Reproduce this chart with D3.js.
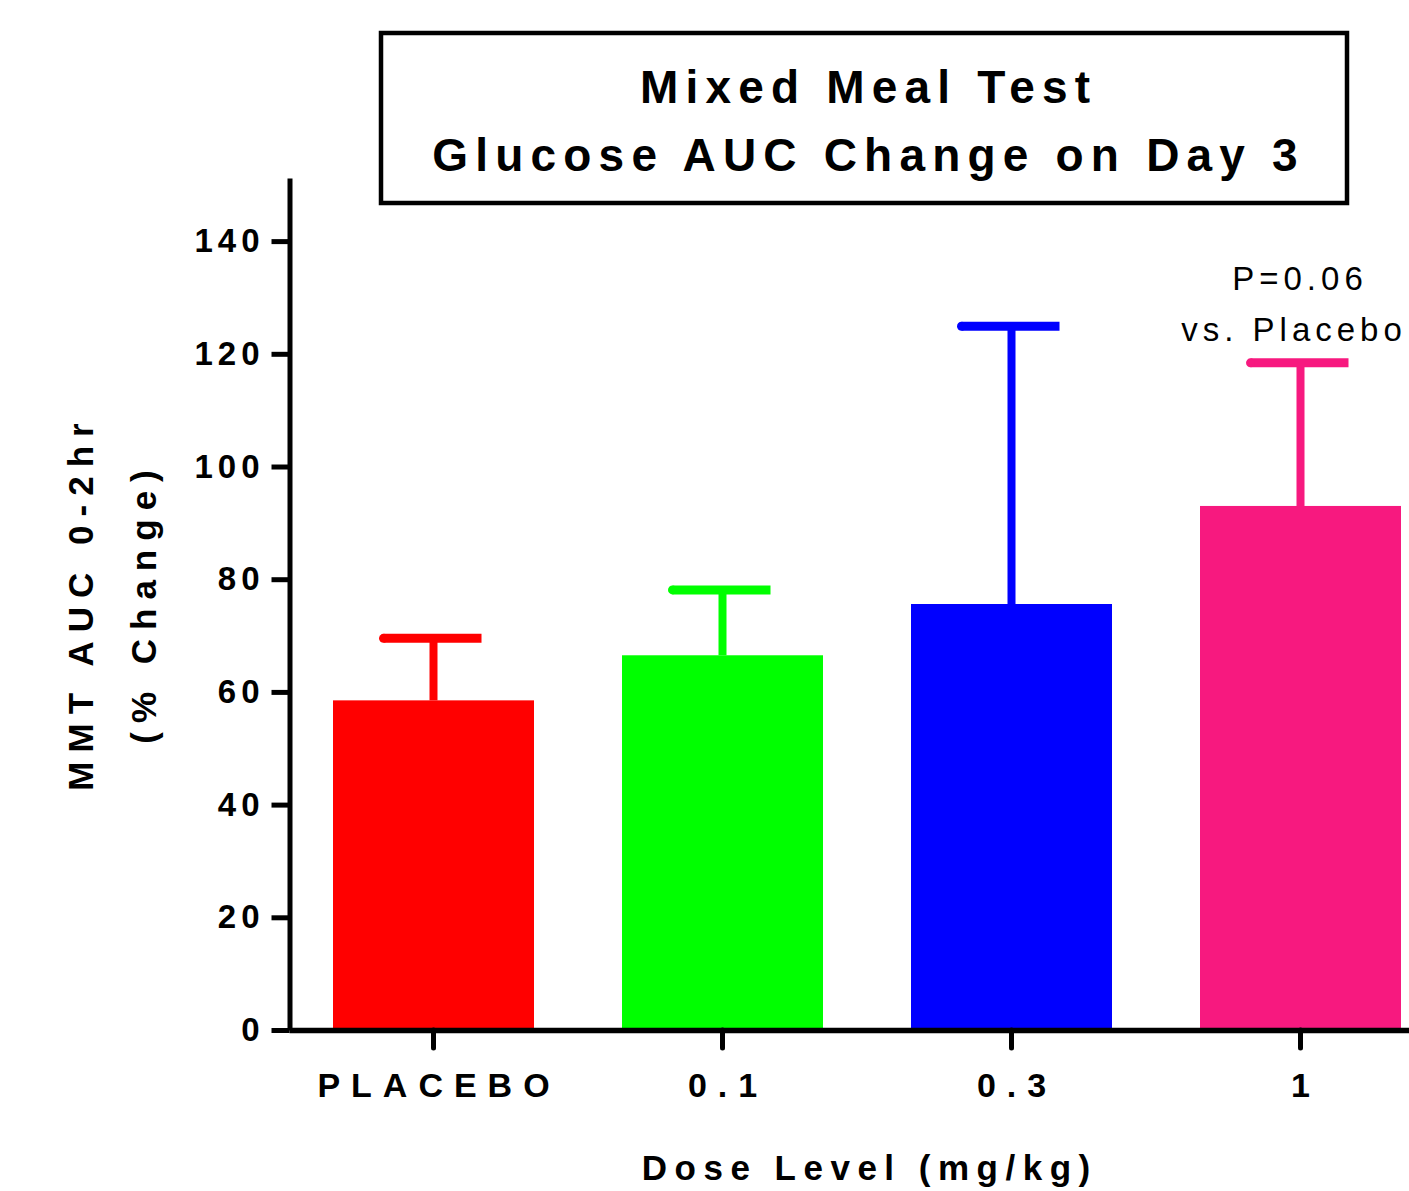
<!DOCTYPE html>
<html>
<head>
<meta charset="utf-8">
<script src="https://cdn.jsdelivr.net/npm/d3@7"></script>
<style>
  html, body { margin: 0; padding: 0; background: #fff; }
  svg { display: block; }
</style>
</head>
<body>
<script>
// ---- data ----
const categories = ["PLACEBO", "0.1", "0.3", "1"];
const means = [58.5, 66.5, 75.6, 93.0];
const errorTops = [69.5, 78.1, 124.9, 118.4];
const barColors = ["#ff0000", "#00ff00", "#0000ff", "#f7197f"];
const yTicks = [0, 20, 40, 60, 80, 100, 120, 140];
const titleLines = ["Mixed Meal Test", "Glucose AUC Change on Day 3"];
const yTitleLines = ["MMT AUC 0-2hr", "(% Change)"];
const xTitle = "Dose Level (mg/kg)";
const annotationLines = ["P=0.06", "vs. Placebo"];
const annotatedCategory = "1";

// ---- layout ----
const W = 1409, H = 1191;
const FONT = "'Liberation Sans', Arial, Helvetica, sans-serif";

const svg = d3.select("body").append("svg")
  .attr("width", W).attr("height", H)
  .style("font-family", FONT);

const y = d3.scaleLinear().domain([0, 151.2]).range([1030, 178]);
const x = d3.scaleBand().domain(categories).range([289, 1445])
  .paddingInner(89 / 289).paddingOuter(89 / 289 / 2);

// bars
svg.append("g").selectAll("rect").data(categories).join("rect")
  .attr("x", d => x(d) - 0.5)
  .attr("width", x.bandwidth() + 1)
  .attr("y", (d, i) => y(means[i]))
  .attr("height", (d, i) => y(0) - y(means[i]))
  .attr("fill", (d, i) => barColors[i]);

// error bars (upper only)
const eb = svg.append("g");
categories.forEach((c, i) => {
  const cx = x(c) + x.bandwidth() / 2;
  eb.append("line")
    .attr("x1", cx).attr("x2", cx)
    .attr("y1", y(means[i])).attr("y2", y(errorTops[i]))
    .attr("stroke", barColors[i]).attr("stroke-width", 8);
  eb.append("line")
    .attr("x1", cx - 50).attr("x2", cx + 48)
    .attr("y1", y(errorTops[i])).attr("y2", y(errorTops[i]))
    .attr("stroke", barColors[i]).attr("stroke-width", 9)
    .attr("stroke-linecap", "butt");
  eb.append("circle")
    .attr("cx", cx - 50).attr("cy", y(errorTops[i])).attr("r", 4.5)
    .attr("fill", barColors[i]);
});

// y axis
const yLS = 5;
const yAxis = svg.append("g").attr("transform", "translate(289.5,0)")
  .call(d3.axisLeft(y).tickValues(yTicks).tickSize(18).tickSizeOuter(0).tickPadding(7));
yAxis.select(".domain").attr("stroke", "#000").attr("stroke-width", 5);
yAxis.selectAll(".tick line").attr("stroke", "#000").attr("stroke-width", 5);
yAxis.selectAll(".tick text")
  .attr("fill", "#000")
  .style("font-family", FONT)
  .style("font-size", "33px").style("font-weight", "bold")
  .style("letter-spacing", yLS + "px");

// x axis
const xLS = 11;
const xAxis = svg.append("g").attr("transform", "translate(0,1030)")
  .call(d3.axisBottom(x).tickSize(18).tickSizeOuter(0).tickPadding(25));
xAxis.select(".domain").attr("stroke", "#000").attr("stroke-width", 5.5);
xAxis.selectAll(".tick line").attr("stroke", "#000").attr("stroke-width", 5)
  .attr("stroke-linecap", "round");
xAxis.selectAll(".tick text")
  .attr("fill", "#000")
  .attr("dx", xLS / 2)
  .style("font-family", FONT)
  .style("font-size", "34px").style("font-weight", "bold")
  .style("letter-spacing", xLS + "px");

// title box
svg.append("rect")
  .attr("x", 381).attr("y", 33).attr("width", 966).attr("height", 170)
  .attr("fill", "none").attr("stroke", "#000").attr("stroke-width", 4.5);
const tLS = 7.2;
svg.append("g").selectAll("text").data(titleLines).join("text")
  .attr("x", 865 + tLS / 2)
  .attr("y", (d, i) => [103, 171][i])
  .attr("text-anchor", "middle")
  .style("font-size", "46px").style("font-weight", "bold")
  .style("letter-spacing", tLS + "px")
  .text(d => d);

// y axis title
const ytLS = 9;
svg.append("g").selectAll("text").data(yTitleLines).join("text")
  .attr("transform", (d, i) => `translate(${[93, 156][i]},${607 - ytLS / 2}) rotate(-90)`)
  .attr("text-anchor", "middle")
  .style("font-size", "35px").style("font-weight", "bold")
  .style("letter-spacing", ytLS + "px")
  .text(d => d);

// x axis title
const xtLS = 7.5;
svg.append("text")
  .attr("x", 866 + xtLS / 2).attr("y", 1180)
  .attr("text-anchor", "middle")
  .style("font-size", "35px").style("font-weight", "bold")
  .style("letter-spacing", xtLS + "px")
  .text(xTitle);

// annotation
const aLS = 5;
const acx = x(annotatedCategory) + x.bandwidth() / 2;
svg.append("g").selectAll("text").data(annotationLines).join("text")
  .attr("x", (d, i) => acx + [-3, -9][i] + aLS / 2)
  .attr("y", (d, i) => [290, 341][i])
  .attr("text-anchor", "middle")
  .style("font-size", "33px")
  .style("letter-spacing", aLS + "px")
  .text(d => d);
</script>
</body>
</html>
